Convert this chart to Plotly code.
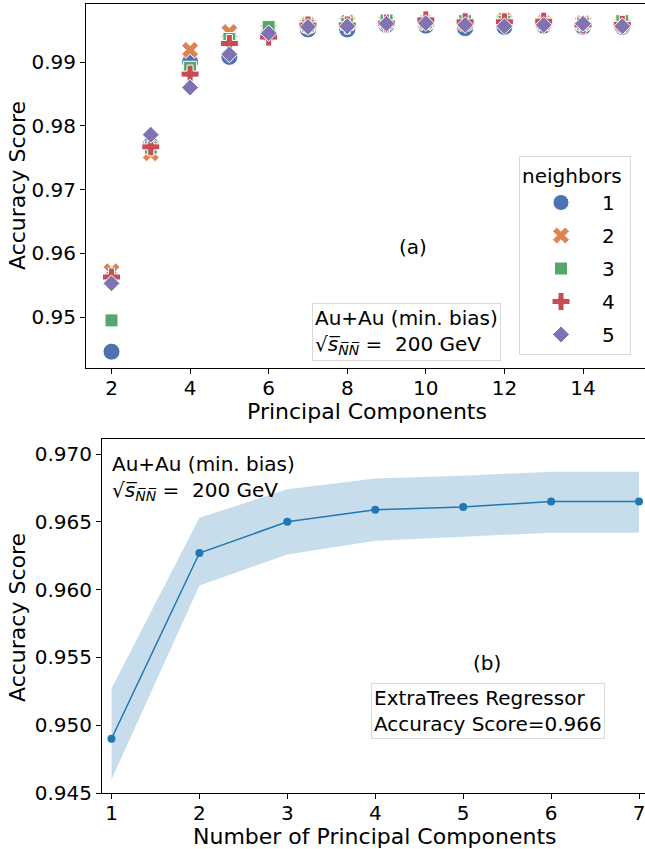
import plotly.graph_objects as go

# ---- data -------------------------------------------------------------
components = [2, 3, 4, 5, 6, 7, 8, 9, 10, 11, 12, 13, 14, 15]

acc_k1 = [0.9446, 0.9770, 0.9900, 0.9908, 0.9944, 0.9951, 0.9951, 0.9958, 0.9957, 0.9953, 0.9955, 0.9957, 0.9955, 0.9955]
acc_k2 = [0.9572, 0.9757, 0.9919, 0.9947, 0.9950, 0.9958, 0.9962, 0.9963, 0.9962, 0.9961, 0.9965, 0.9961, 0.9961, 0.9959]
acc_k3 = [0.9495, 0.9766, 0.9891, 0.9936, 0.9955, 0.9957, 0.9960, 0.9965, 0.9962, 0.9964, 0.9963, 0.9960, 0.9960, 0.9964]
acc_k4 = [0.9563, 0.9767, 0.9881, 0.9929, 0.9939, 0.9958, 0.9958, 0.9961, 0.9966, 0.9963, 0.9963, 0.9964, 0.9958, 0.9959]
acc_k5 = [0.9553, 0.9786, 0.9860, 0.9912, 0.9945, 0.9955, 0.9956, 0.9960, 0.9961, 0.9958, 0.9956, 0.9958, 0.9960, 0.9956]

neighbor_labels = ["1", "2", "3", "4", "5"]

et_components = [1, 2, 3, 4, 5, 6, 7]
et_mean = [0.9490, 0.9627, 0.9650, 0.9659, 0.9661, 0.9665, 0.9665]
et_lower = [0.9460, 0.9603, 0.9626, 0.9636, 0.9639, 0.9642, 0.9642]
et_upper = [0.9527, 0.9653, 0.9674, 0.9682, 0.9684, 0.9687, 0.9687]

top_yticks = [0.95, 0.96, 0.97, 0.98, 0.99]
top_xticks = [2, 4, 6, 8, 10, 12, 14]
bot_yticks = [0.945, 0.950, 0.955, 0.960, 0.965, 0.970]
bot_xticks = [1, 2, 3, 4, 5, 6, 7]

# ---- styling ----------------------------------------------------------
FONT = "DejaVu Sans"
W, H = 645, 849
palette = ["#4c72b0", "#dd8452", "#55a868", "#c44e52", "#8172b3"]
symbols = ["circle", "x", "square", "cross", "diamond"]
sizes = [17, 15, 13, 15, 13]
series = [acc_k1, acc_k2, acc_k3, acc_k4, acc_k5]


def px_x(p):
    return p / W


def px_y(p):
    return 1 - p / H


fig = go.Figure()

# panel (a): kNN accuracy vs number of components
for i, vals in enumerate(series):
    fig.add_trace(go.Scatter(
        x=components, y=vals, mode="markers", name=neighbor_labels[i],
        legendgroup=neighbor_labels[i],
        marker=dict(symbol=symbols[i], size=sizes[i], color=palette[i],
                    line=dict(color="white", width=1)),
        xaxis="x", yaxis="y",
    ))

# panel (b): ExtraTrees accuracy band and mean curve
fig.add_trace(go.Scatter(
    x=et_components, y=et_lower, mode="lines", line=dict(width=0),
    showlegend=False, hoverinfo="skip", xaxis="x2", yaxis="y2",
))
fig.add_trace(go.Scatter(
    x=et_components, y=et_upper, mode="lines", line=dict(width=0),
    fill="tonexty", fillcolor="rgba(31,119,180,0.25)",
    showlegend=False, hoverinfo="skip", xaxis="x2", yaxis="y2",
))
fig.add_trace(go.Scatter(
    x=et_components, y=et_mean, mode="lines+markers",
    line=dict(color="#1f77b4", width=1.5),
    marker=dict(color="#1f77b4", size=8),
    showlegend=False, xaxis="x2", yaxis="y2",
))

axis_common = dict(
    showline=True, linecolor="black", linewidth=1,
    ticks="outside", ticklen=5, tickwidth=1, tickcolor="black",
    showgrid=False, zeroline=False, automargin=False,
    ticklabeloverflow="allow",
    tickfont=dict(family=FONT, size=20, color="black"),
)
x_common = dict(axis_common, ticklabelstandoff=-3)

fig.update_layout(
    width=W, height=H,
    margin=dict(l=0, r=0, t=0, b=0, pad=0, autoexpand=False),
    paper_bgcolor="white", plot_bgcolor="white",
    font=dict(family=FONT, color="black"),
    xaxis=dict(domain=[px_x(86), 1], range=[1.351, 15.578],
               tickvals=top_xticks, mirror=True, anchor="y", **x_common),
    yaxis=dict(domain=[px_y(368), px_y(4)], range=[0.94204, 0.99909],
               tickvals=top_yticks, tickformat=".2f", anchor="x", **axis_common),
    xaxis2=dict(domain=[px_x(102), 1], range=[0.892, 7.068],
                tickvals=bot_xticks, mirror=True, anchor="y2", **x_common),
    yaxis2=dict(domain=[px_y(793), px_y(439)], range=[0.945, 0.97111],
                tickvals=bot_yticks, tickformat=".3f", anchor="x2", **axis_common),
    legend=dict(
        x=px_x(519), y=px_y(156), xanchor="left", yanchor="top",
        title=dict(text="neighbors ", font=dict(family=FONT, size=20), side="top center"),
        font=dict(family=FONT, size=20, color="black"),
        bordercolor="#d9d9d9", borderwidth=1, bgcolor="white",
        tracegroupgap=4, itemwidth=72,
    ),
)

sqrt_text = "√<i>s̅</i><sub><i>N̅N̅</i></sub> =  200 GeV"

annotations = [
    # axis titles
    dict(text="Accuracy Score", x=px_x(17), y=px_y(186), textangle=-90,
         font=dict(size=22)),
    dict(text="Principal Components", x=px_x(367), y=px_y(411),
         font=dict(size=22)),
    dict(text="Accuracy Score", x=px_x(17), y=px_y(618), textangle=-90,
         font=dict(size=22)),
    dict(text="Number of Principal Components", x=px_x(375), y=px_y(836),
         font=dict(size=22)),
    # panel labels
    dict(text="(a)", x=px_x(413), y=px_y(247), font=dict(size=20)),
    dict(text="(b)", x=px_x(487), y=px_y(663), font=dict(size=20)),
    # info boxes
    dict(text="Au+Au (min. bias)<br>" + sqrt_text, x=px_x(312), y=px_y(303),
         xanchor="left", yanchor="top", align="left", font=dict(size=20),
         bordercolor="#d9d9d9", borderwidth=1, borderpad=2, bgcolor="white"),
    dict(text="Au+Au (min. bias)<br>" + sqrt_text, x=px_x(110), y=px_y(450),
         xanchor="left", yanchor="top", align="left", font=dict(size=20)),
    dict(text="ExtraTrees Regressor<br>Accuracy Score=0.966", x=px_x(371), y=px_y(683),
         xanchor="left", yanchor="top", align="left", font=dict(size=20),
         bordercolor="#d9d9d9", borderwidth=1, borderpad=2, bgcolor="white"),
]
for a in annotations:
    a.setdefault("xref", "paper")
    a.setdefault("yref", "paper")
    a.setdefault("xanchor", "center")
    a.setdefault("yanchor", "middle")
    a.setdefault("showarrow", False)
    a["font"] = dict(family=FONT, color="black", **a["font"])
    fig.add_annotation(**a)

fig.write_html("out.html")
